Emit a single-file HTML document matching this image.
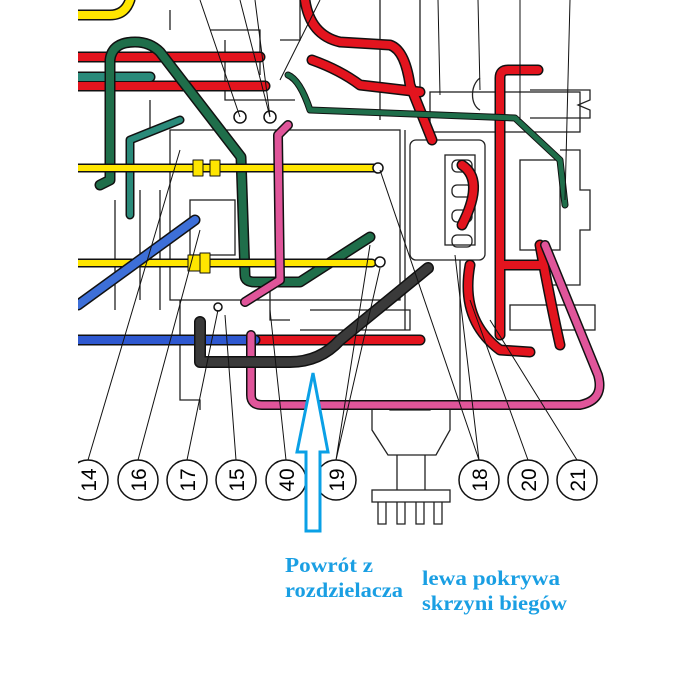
<!DOCTYPE html>
<html><head><meta charset="utf-8"><style>
html,body{margin:0;padding:0;background:#fff;width:681px;height:682px;overflow:hidden}
svg{position:absolute;left:0;top:0}
.t{font-family:"Liberation Serif",serif;font-weight:bold;fill:#1a9fe3;font-size:21px}
.n{font-family:"Liberation Sans",sans-serif;font-size:21px;fill:#000}
</style></head><body>
<svg width="681" height="682" viewBox="0 0 681 682">
<g fill="none" stroke="#222" stroke-width="1.3">
<rect x="170" y="130" width="230" height="170"/>
<rect x="190" y="200" width="45" height="55"/>
<rect x="410" y="140" width="75" height="120" rx="6"/>
<rect x="445" y="155" width="30" height="90"/>
<rect x="452" y="160" width="20" height="12" rx="5"/>
<rect x="452" y="185" width="20" height="12" rx="5"/>
<rect x="452" y="210" width="20" height="12" rx="5"/>
<rect x="452" y="235" width="20" height="12" rx="5"/>
<rect x="430" y="92" width="150" height="40"/>
<rect x="520" y="160" width="40" height="90"/>
<path d="M560 150 L580 150 L580 190 L590 190 L590 230 L580 230 L580 285 L545 285"/>
<path d="M530 90 L590 90 L590 100 L578 105 L590 110 L590 118 L530 118"/>
<rect x="510" y="305" width="85" height="25"/>
<path d="M310 310 L410 310 L410 330 L300 330"/>
<path d="M180 300 L180 400 L200 400 L200 410"/>
<path d="M115 200 L115 310 M140 190 L140 300 M160 190 L160 310"/>
<path d="M270 280 L270 320 L290 320"/>
<path d="M405 130 L405 330 M460 260 L460 400"/>
<path d="M390 400 L390 410 L430 410 L430 400"/>
<path d="M372 405 L450 405 L450 430 L436 455 L388 455 L372 430 Z"/>
<path d="M397 455 L397 490 M425 455 L425 490"/>
<rect x="372" y="490" width="78" height="12"/>
<path d="M378 502 v22 h8 v-22 M397 502 v22 h8 v-22 M416 502 v22 h8 v-22 M434 502 v22 h8 v-22"/>
<path d="M210 30 L260 30 L260 75 M170 30 L170 10 M300 0 L300 40 L280 40"/>
<path d="M380 0 L380 120 M420 0 L420 90"/>
<path d="M480 78 C470 85 470 105 480 110"/>
<path d="M225 40 L225 100 L295 100 M150 100 L150 130"/>
</g>
<g fill="none" stroke-linecap="round" stroke-linejoin="round">
<g stroke="#111" stroke-width="11">
<path d="M78 15 L110 15 Q125 15 130 0"/>
<path d="M78 57 L260 57 M78 86 L265 86"/>
<path d="M78 77 L150 77"/>
<path d="M305 0 Q310 35 340 42 L390 45 Q405 50 410 85 L432 140"/>
<path d="M312 60 Q340 70 360 85 L420 92"/>
<path d="M500 335 L500 78 Q500 70 508 70 L538 70"/>
<path d="M500 265 L540 265"/>
<path d="M462 165 Q485 180 462 225"/>
<path d="M470 265 Q460 320 500 350 L530 352"/>
<path d="M540 245 Q550 300 560 345"/>
<path d="M250 340 L420 340"/>
</g>
<g stroke="#e3141e" stroke-width="8">
<path d="M78 57 L260 57 M78 86 L265 86"/>
<path d="M305 0 Q310 35 340 42 L390 45 Q405 50 410 85 L432 140"/>
<path d="M312 60 Q340 70 360 85 L420 92"/>
<path d="M500 335 L500 78 Q500 70 508 70 L538 70"/>
<path d="M500 265 L540 265"/>
<path d="M462 165 Q485 180 462 225"/>
<path d="M470 265 Q460 320 500 350 L530 352"/>
<path d="M540 245 Q550 300 560 345"/>
<path d="M250 340 L420 340"/>
</g>
<path d="M78 15 L110 15 Q125 15 130 0" stroke="#ffe600" stroke-width="8"/>
<path d="M78 77 L150 77" stroke="#2a8a7a" stroke-width="8"/>
<path d="M100 185 L110 180 L110 60 Q112 42 135 42 Q150 42 160 52 L241 157 L245 275 Q245 282 255 282 L300 282 L370 237" stroke="#111" stroke-width="11"/>
<path d="M100 185 L110 180 L110 60 Q112 42 135 42 Q150 42 160 52 L241 157 L245 275 Q245 282 255 282 L300 282 L370 237" stroke="#1f6e4a" stroke-width="8"/>
<path d="M288 75 Q300 80 310 110 L515 118 L560 160 L565 205" stroke="#111" stroke-width="7"/>
<path d="M288 75 Q300 80 310 110 L515 118 L560 160 L565 205" stroke="#1f6e4a" stroke-width="5"/>
<path d="M130 215 L130 140 L180 120" stroke="#111" stroke-width="9"/>
<path d="M130 215 L130 140 L180 120" stroke="#2a8a7a" stroke-width="6"/>
<path d="M78 168 L378 168" stroke="#111" stroke-width="9"/>
<path d="M78 168 L378 168" stroke="#ffe600" stroke-width="6"/>
<path d="M78 263 L372 263" stroke="#111" stroke-width="9"/>
<path d="M78 263 L372 263" stroke="#ffe600" stroke-width="6"/>
<rect x="193" y="160" width="10" height="16" fill="#ffe600" stroke="#111"/>
<rect x="210" y="160" width="10" height="16" fill="#ffe600" stroke="#111"/>
<rect x="188" y="255" width="12" height="16" fill="#ffe600" stroke="#111"/>
<rect x="200" y="253" width="10" height="20" fill="#ffe600" stroke="#111"/>
<path d="M195 220 L78 305" stroke="#111" stroke-width="11"/>
<path d="M195 220 L78 305" stroke="#3d6fd8" stroke-width="8"/>
<path d="M78 340 L255 340" stroke="#111" stroke-width="11"/>
<path d="M78 340 L255 340" stroke="#2e58d0" stroke-width="8"/>
<path d="M288 125 L278 135 L280 280 L245 302" stroke="#111" stroke-width="10"/>
<path d="M288 125 L278 135 L280 280 L245 302" stroke="#e0559a" stroke-width="7"/>
<path d="M251 335 L251 395 Q251 405 262 405 L580 405 Q605 400 598 375 L545 245" stroke="#111" stroke-width="10"/>
<path d="M251 335 L251 395 Q251 405 262 405 L580 405 Q605 400 598 375 L545 245" stroke="#e0559a" stroke-width="7"/>
<path d="M200 322 L200 362 L290 362 Q320 362 340 340 L428 268" stroke="#111" stroke-width="12"/>
<path d="M200 322 L200 362 L290 362 Q320 362 340 340 L428 268" stroke="#3a3a3a" stroke-width="9"/>
</g>
<g fill="#fff" stroke="#111" stroke-width="1.5">
<circle cx="240" cy="117" r="6"/><circle cx="270" cy="117" r="6"/>
<circle cx="378" cy="168" r="5"/><circle cx="380" cy="262" r="5"/>
<circle cx="218" cy="307" r="4"/>
</g>
<g stroke="#111" stroke-width="1" fill="none">
<path d="M88 460 L180 150 M138 460 L200 230 M187 460 L218 310 M236 460 L225 315 M286 460 L270 310 M336 460 L370 245 M336 460 L380 268"/>
<path d="M479 460 L380 170 M479 460 L455 255 M528 460 L470 300 M577 460 L490 320"/>
<path d="M240 117 L200 0 M270 117 L255 0 M270 117 L240 0 M280 80 L320 0 M440 95 L438 0 M480 90 L478 0 M520 120 L520 0 M565 200 L570 0"/>
</g>
<g fill="#fff" stroke="#111" stroke-width="1.5">
<circle cx="88" cy="480" r="20"/><circle cx="138" cy="480" r="20"/><circle cx="187" cy="480" r="20"/>
<circle cx="236" cy="480" r="20"/><circle cx="286" cy="480" r="20"/><circle cx="336" cy="480" r="20"/>
<circle cx="479" cy="480" r="20"/><circle cx="528" cy="480" r="20"/><circle cx="577" cy="480" r="20"/>
</g>
<rect x="0" y="0" width="78" height="682" fill="#fff"/>
<g class="n" text-anchor="middle">
<text transform="translate(88,480) rotate(-90)" y="8">14</text>
<text transform="translate(138,480) rotate(-90)" y="8">16</text>
<text transform="translate(187,480) rotate(-90)" y="8">17</text>
<text transform="translate(236,480) rotate(-90)" y="8">15</text>
<text transform="translate(286,480) rotate(-90)" y="8">40</text>
<text transform="translate(336,480) rotate(-90)" y="8">19</text>
<text transform="translate(479,480) rotate(-90)" y="8">18</text>
<text transform="translate(528,480) rotate(-90)" y="8">20</text>
<text transform="translate(577,480) rotate(-90)" y="8">21</text>
</g>
<polygon points="313,373 328,452 320,452 320,531 306,531 306,452 297,452" fill="#fff" stroke="#0aa0e6" stroke-width="3"/>
<text class="t" x="285" y="572" textLength="88" lengthAdjust="spacingAndGlyphs">Powrót z</text>
<text class="t" x="285" y="597" textLength="118" lengthAdjust="spacingAndGlyphs">rozdzielacza</text>
<text class="t" x="422" y="585" textLength="138" lengthAdjust="spacingAndGlyphs">lewa pokrywa</text>
<text class="t" x="422" y="610" textLength="145" lengthAdjust="spacingAndGlyphs">skrzyni biegów</text>
</svg>
</body></html>
